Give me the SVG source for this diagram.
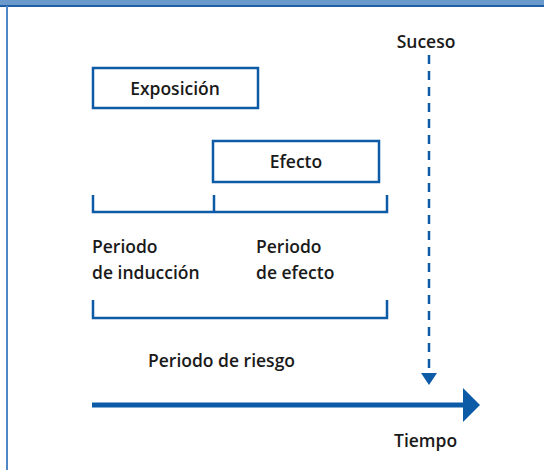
<svg xmlns="http://www.w3.org/2000/svg" width="544" height="470" viewBox="0 0 544 470">
<defs>
<style>
.t{font-family:"Open Sans","Liberation Sans",sans-serif;font-size:17.5px;font-weight:600;fill:#1a1a1a}
.box{fill:#fff;stroke:#0d5aa7;stroke-width:2.5}
.ln{fill:none;stroke:#0d5aa7;stroke-width:2.5}
</style>
</defs>
<rect x="0" y="0" width="544" height="470" fill="#fff"/>
<rect x="0" y="0" width="544" height="5" fill="#6a9acb"/>
<rect x="0" y="5" width="544" height="2" fill="#1f5fa8"/>
<rect x="6" y="6" width="2" height="464" fill="#4f86c6"/>
<g id="suceso"><text class="t" x="426" y="48" text-anchor="middle">Suceso</text></g>
<g id="exposicion"><rect class="box" x="93" y="68" width="165" height="40"/><text class="t" x="175" y="95" text-anchor="middle">Exposición</text></g>
<g id="efecto"><rect class="box" x="213" y="141" width="166" height="41"/><text class="t" x="296" y="168" text-anchor="middle">Efecto</text></g>
<g id="induccion"><text class="t" x="92" y="253">Periodo</text><text class="t" x="92" y="279">de inducción</text></g>
<g id="periodo-efecto"><text class="t" x="256" y="253">Periodo</text><text class="t" x="256" y="279">de efecto</text></g>
<g id="riesgo"><text class="t" x="148" y="367">Periodo de riesgo</text></g>
<g id="tiempo"><text class="t" x="394" y="447">Tiempo</text></g>
<g id="connectors">
<path class="ln" d="M93 195V212H387V195M214 195V212"/>
<path class="ln" d="M93 300V318H387V300"/>
<line x1="429" y1="55" x2="429" y2="375" stroke="#0d5aa7" stroke-width="2.5" stroke-dasharray="9,7"/>
<polygon points="421,373 437,373 429,385" fill="#0d5aa7"/>
<line x1="92" y1="405" x2="466" y2="405" stroke="#0d5aa7" stroke-width="5"/>
<polygon points="463,388 480,405 463,422" fill="#0d5aa7"/>
</g>
</svg>
